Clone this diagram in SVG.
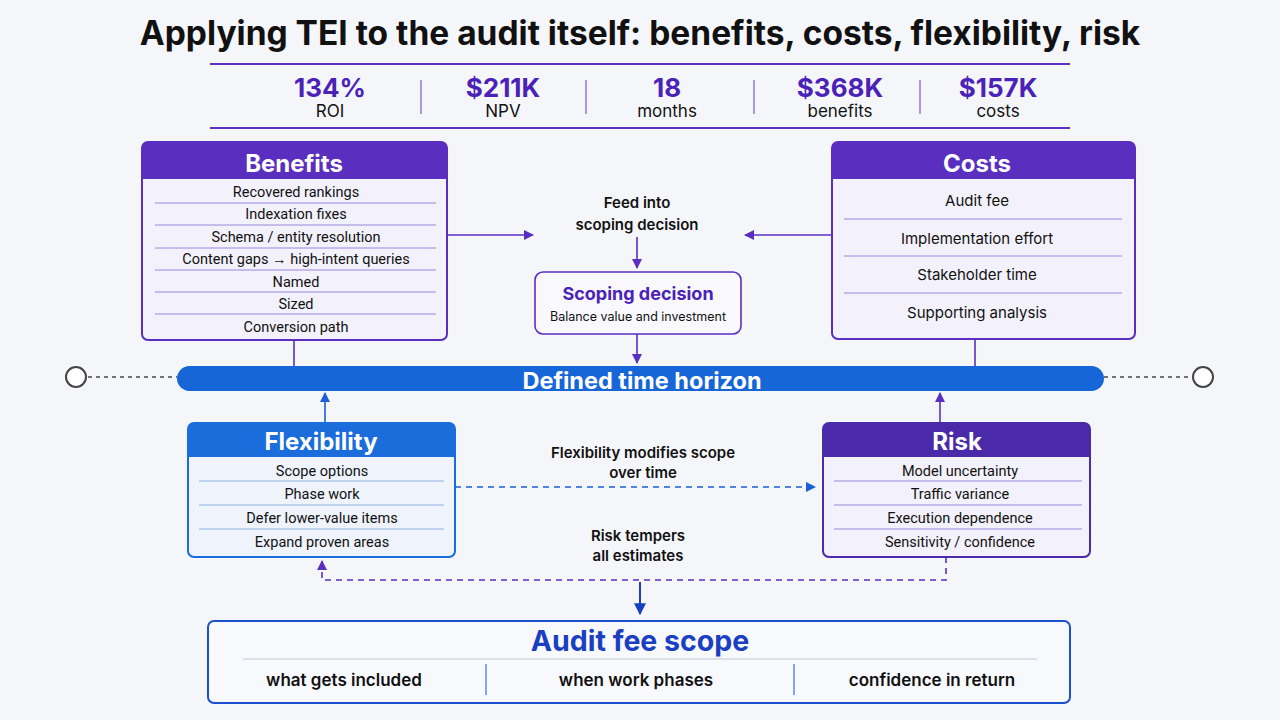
<svg xmlns="http://www.w3.org/2000/svg" width="1280" height="720" viewBox="0 0 1280 720">
<defs>
<style>
text{font-family:Inter,"Liberation Sans",sans-serif;}
.title{font-size:33.5px;font-weight:700;fill:#111;}
.val{font-size:26px;font-weight:700;fill:#4b22b8;text-anchor:middle;}
.lab{font-size:17px;fill:#111;text-anchor:middle;}
.hdr{font-size:24px;font-weight:700;fill:#fff;text-anchor:middle;}
.row{font-family:Roboto,"Liberation Sans",sans-serif;font-size:14.5px;fill:#111;text-anchor:middle;}
.rowc{font-size:15px;fill:#111;text-anchor:middle;}
.note{font-size:15px;font-weight:600;fill:#111;text-anchor:middle;}
.pdiv{stroke:#9b86dc;stroke-width:1;}
.bdiv{stroke:#8fb0e8;stroke-width:1;}
.pline{stroke:#5a2fc0;stroke-width:1.6;fill:none;}
.bline{stroke:#1a5fd6;stroke-width:1.6;fill:none;}
</style>
<marker id="ap" viewBox="0 0 10 10" refX="9" refY="5" markerWidth="10" markerHeight="10" markerUnits="userSpaceOnUse" orient="auto"><path d="M0,0 L10,5 L0,10 z" fill="#5a2fc0"/></marker>
<marker id="ab" viewBox="0 0 10 10" refX="9" refY="5" markerWidth="10" markerHeight="10" markerUnits="userSpaceOnUse" orient="auto"><path d="M0,0 L10,5 L0,10 z" fill="#1a5fd6"/></marker>
<marker id="abd" viewBox="0 0 10 10" refX="9" refY="5" markerWidth="12" markerHeight="12" markerUnits="userSpaceOnUse" orient="auto"><path d="M0,0 L10,5 L0,10 z" fill="#1a3fc0"/></marker>
</defs>
<rect width="1280" height="720" fill="#f5f6fa"/>
<text class="title" x="640" y="45" text-anchor="middle">Applying TEI to the audit itself: benefits, costs, flexibility, risk</text>

<g id="metrics">
<line x1="210" y1="64" x2="1070" y2="64" stroke="#5a2fc0" stroke-width="2"/>
<line x1="210" y1="128" x2="1070" y2="128" stroke="#5a2fc0" stroke-width="2"/>
<g stroke="#7a5ad0" stroke-width="1.2">
<line x1="421" y1="80" x2="421" y2="114"/><line x1="586" y1="80" x2="586" y2="114"/>
<line x1="754" y1="80" x2="754" y2="114"/><line x1="920" y1="80" x2="920" y2="114"/>
</g>
<text class="val" x="330" y="97">134%</text><text class="lab" x="330" y="117">ROI</text>
<text class="val" x="503" y="97">$211K</text><text class="lab" x="503" y="117">NPV</text>
<text class="val" x="667" y="97">18</text><text class="lab" x="667" y="117">months</text>
<text class="val" x="840" y="97">$368K</text><text class="lab" x="840" y="117">benefits</text>
<text class="val" x="998" y="97">$157K</text><text class="lab" x="998" y="117">costs</text>
</g>

<g id="connectors">
<line class="pline" x1="447" y1="235" x2="533" y2="235" marker-end="url(#ap)"/>
<line class="pline" x1="832" y1="235" x2="745" y2="235" marker-end="url(#ap)"/>
<line class="pline" x1="637" y1="237" x2="637" y2="268" marker-end="url(#ap)"/>
<line class="pline" x1="637" y1="334" x2="637" y2="363" marker-end="url(#ap)"/>
<line class="pline" x1="294" y1="340" x2="294" y2="366"/>
<line class="pline" x1="975" y1="339" x2="975" y2="366"/>
<line x1="88" y1="377" x2="177" y2="377" stroke="#444" stroke-width="1.5" stroke-dasharray="4 4"/>
<line x1="1104" y1="377" x2="1191" y2="377" stroke="#444" stroke-width="1.5" stroke-dasharray="4 4"/>
<line class="bline" x1="325" y1="423" x2="325" y2="393" marker-end="url(#ab)"/>
<line class="pline" x1="940" y1="423" x2="940" y2="393" marker-end="url(#ap)"/>
<line class="bline" x1="455" y1="487" x2="815" y2="487" stroke-dasharray="6 5" marker-end="url(#ab)"/>
<polyline class="pline" points="946,557 946,580 322,580 322,561" stroke-dasharray="6 5" marker-end="url(#ap)"/>
<line x1="640" y1="582" x2="640" y2="614" stroke="#1a3fc0" stroke-width="2" marker-end="url(#abd)"/>
<text class="note" x="637" y="208">Feed into</text>
<text class="note" x="637" y="230">scoping decision</text>
<text class="note" x="643" y="458">Flexibility modifies scope</text>
<text class="note" x="643" y="478">over time</text>
<text class="note" x="638" y="541">Risk tempers</text>
<text class="note" x="638" y="561">all estimates</text>
</g>

<g id="benefits">
<rect x="142" y="142" width="305" height="198" rx="6" fill="#f3f1fb" stroke="#5a2fc0" stroke-width="2"/>
<path d="M142,179 V148 a6,6 0 0 1 6,-6 H441 a6,6 0 0 1 6,6 V179 z" fill="#5a2fc0"/>
<text class="hdr" x="294" y="172">Benefits</text>
<g class="pdiv"><line x1="155" y1="203" x2="436" y2="203"/><line x1="155" y1="225" x2="436" y2="225"/><line x1="155" y1="248" x2="436" y2="248"/><line x1="155" y1="270" x2="436" y2="270"/><line x1="155" y1="292" x2="436" y2="292"/><line x1="155" y1="314" x2="436" y2="314"/></g>
<text class="row" x="296" y="197">Recovered rankings</text>
<text class="row" x="296" y="219">Indexation fixes</text>
<text class="row" x="296" y="242">Schema / entity resolution</text>
<text class="row" x="296" y="264">Content gaps → high-intent queries</text>
<text class="row" x="296" y="287">Named</text>
<text class="row" x="296" y="309">Sized</text>
<text class="row" x="296" y="332">Conversion path</text>
</g>

<g id="costs">
<rect x="832" y="142" width="303" height="197" rx="6" fill="#f3f1fb" stroke="#5a2fc0" stroke-width="2"/>
<path d="M832,179 V148 a6,6 0 0 1 6,-6 H1129 a6,6 0 0 1 6,6 V179 z" fill="#5a2fc0"/>
<text class="hdr" x="977" y="172">Costs</text>
<g class="pdiv"><line x1="844" y1="219" x2="1122" y2="219"/><line x1="844" y1="256" x2="1122" y2="256"/><line x1="844" y1="293" x2="1122" y2="293"/></g>
<text class="rowc" x="977" y="206">Audit fee</text>
<text class="rowc" x="977" y="244">Implementation effort</text>
<text class="rowc" x="977" y="280">Stakeholder time</text>
<text class="rowc" x="977" y="318">Supporting analysis</text>
</g>

<g id="scoping">
<rect x="535" y="272" width="206" height="62" rx="8" fill="#f8f8fd" stroke="#5a2fc0" stroke-width="1.6"/>
<text x="638" y="300" text-anchor="middle" font-size="18" font-weight="700" fill="#4b22b8">Scoping decision</text>
<text x="638" y="321" text-anchor="middle" font-size="12.5" fill="#111">Balance value and investment</text>
</g>

<g id="horizon">
<rect x="177" y="366" width="927" height="25" rx="12.5" fill="#1766d8"/>
<text x="642" y="389" text-anchor="middle" font-size="23.5" font-weight="700" fill="#fff">Defined time horizon</text>
<circle cx="76" cy="377" r="10" fill="#fff" stroke="#444" stroke-width="2"/>
<circle cx="1203" cy="377" r="10" fill="#fff" stroke="#444" stroke-width="2"/>
</g>

<g id="flexibility">
<rect x="188" y="423" width="267" height="134" rx="6" fill="#eef3fc" stroke="#1a6ddb" stroke-width="2"/>
<path d="M188,457 V429 a6,6 0 0 1 6,-6 H449 a6,6 0 0 1 6,6 V457 z" fill="#1a6ddb"/>
<text class="hdr" x="321" y="450">Flexibility</text>
<g class="bdiv"><line x1="199" y1="481" x2="444" y2="481"/><line x1="199" y1="505" x2="444" y2="505"/><line x1="199" y1="529" x2="444" y2="529"/></g>
<text class="row" x="322" y="476">Scope options</text>
<text class="row" x="322" y="499">Phase work</text>
<text class="row" x="322" y="523">Defer lower-value items</text>
<text class="row" x="322" y="547">Expand proven areas</text>
</g>

<g id="risk">
<rect x="823" y="423" width="267" height="134" rx="6" fill="#f3f1fb" stroke="#4a2aa8" stroke-width="2"/>
<path d="M823,457 V429 a6,6 0 0 1 6,-6 H1084 a6,6 0 0 1 6,6 V457 z" fill="#4a2aa8"/>
<text class="hdr" x="957" y="450">Risk</text>
<g class="pdiv"><line x1="834" y1="481" x2="1082" y2="481"/><line x1="834" y1="505" x2="1082" y2="505"/><line x1="834" y1="529" x2="1082" y2="529"/></g>
<text class="row" x="960" y="476">Model uncertainty</text>
<text class="row" x="960" y="499">Traffic variance</text>
<text class="row" x="960" y="523">Execution dependence</text>
<text class="row" x="960" y="547">Sensitivity / confidence</text>
</g>

<g id="auditfee">
<rect x="208" y="621" width="862" height="82" rx="6" fill="#f8f9fd" stroke="#1a4fd0" stroke-width="2"/>
<text x="640" y="651" text-anchor="middle" font-size="28.5" font-weight="700" fill="#1a3fc0">Audit fee scope</text>
<line x1="243" y1="659" x2="1037" y2="659" stroke="#c4c8d4" stroke-width="1.2"/>
<line x1="486" y1="664" x2="486" y2="695" stroke="#1a4fd0" stroke-width="1"/>
<line x1="794" y1="664" x2="794" y2="695" stroke="#1a4fd0" stroke-width="1"/>
<text x="344" y="686" text-anchor="middle" font-size="17" font-weight="600" fill="#111">what gets included</text>
<text x="636" y="686" text-anchor="middle" font-size="17" font-weight="600" fill="#111">when work phases</text>
<text x="932" y="686" text-anchor="middle" font-size="17" font-weight="600" fill="#111">confidence in return</text>
</g>
</svg>
